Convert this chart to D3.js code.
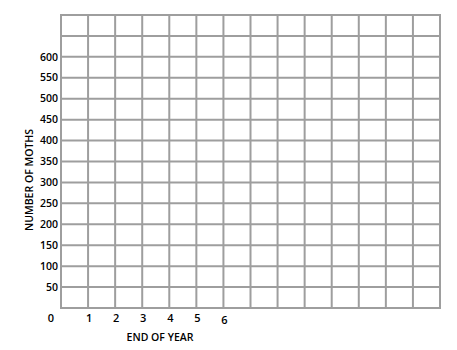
<!DOCTYPE html>
<html>
<head>
<meta charset="utf-8">
<script src="https://cdn.jsdelivr.net/npm/d3@7"></script>
<style>
	html, body { margin: 0; padding: 0; background: #fff; }
	text { font-family: "Open Sans", "Noto Sans", sans-serif; font-weight: 600; fill: #000; }
</style>
</head>
<body>
<svg id="chart" width="457" height="350"></svg>
<script>
// grid extent in data units (years across, moths up)
var yearSlots = 14;
var mothMax = 700;
var mothStep = 50;

// tick labels shown on the worksheet
var yTickLabels = [50, 100, 150, 200, 250, 300, 350, 400, 450, 500, 550, 600];
var xTickLabels = [1, 2, 3, 4, 5, 6];
var originLabel = '0';
var xTitle = 'END OF YEAR';
var yTitle = 'NUMBER OF MOTHS';

var svg = d3.select('#chart');

var x = d3.scaleLinear().domain([0, yearSlots]).range([61, 440]);
var y = d3.scaleLinear().domain([0, mothMax]).range([308, 15]);

var gridColor = '#9e9e9e';

var grid = svg.append('g').attr('class', 'grid');

// vertical lines
grid.selectAll('line.v')
	.data(d3.range(0, yearSlots + 1))
	.join('line')
		.attr('class', 'v')
		.attr('x1', function(d) { return x(d); })
		.attr('x2', function(d) { return x(d); })
		.attr('y1', y(0))
		.attr('y2', y(mothMax))
		.style('stroke', gridColor)
		.style('stroke-width', 2);

// horizontal lines
grid.selectAll('line.h')
	.data(d3.range(0, mothMax + mothStep, mothStep))
	.join('line')
		.attr('class', 'h')
		.attr('x1', x(0) - 1)
		.attr('x2', x(yearSlots) + 1)
		.attr('y1', function(d) { return y(d); })
		.attr('y2', function(d) { return y(d); })
		.style('stroke', gridColor)
		.style('stroke-width', 2);

// y tick labels
svg.append('g').selectAll('text')
	.data(yTickLabels)
	.join('text')
		.attr('x', x(0) - 3)
		.attr('y', function(d) { return y(d); })
		.attr('dy', '0.35em')
		.attr('text-anchor', 'end')
		.attr('font-size', '10.5px')
		.text(function(d) { return d; });

// x tick labels (the 6 sits a little lower on the sheet)
svg.append('g').selectAll('text')
	.data(xTickLabels)
	.join('text')
		.attr('x', function(d) { return x(d) + 1; })
		.attr('y', function(d) { return d === 6 ? 323.5 : 322; })
		.attr('text-anchor', 'middle')
		.attr('font-size', '11px')
		.text(function(d) { return d; });

svg.append('text')
	.attr('x', x(0) - 10)
	.attr('y', 321.5)
	.attr('text-anchor', 'middle')
	.attr('font-size', '11px')
	.text(originLabel);

svg.append('text')
	.attr('x', 160)
	.attr('y', 341)
	.attr('text-anchor', 'middle')
	.attr('font-size', '10.5px')
	.text(xTitle);

svg.append('text')
	.attr('transform', 'translate(32.5,180) rotate(-90)')
	.attr('text-anchor', 'middle')
	.attr('font-size', '10.5px')
	.text(yTitle);
</script>
</body>
</html>
